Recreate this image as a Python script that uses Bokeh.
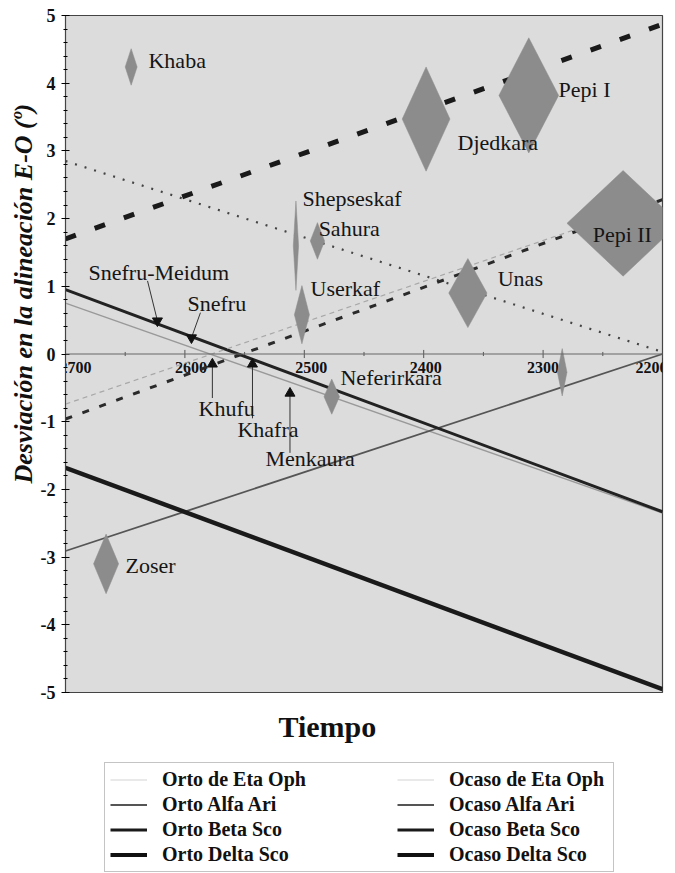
from bokeh.plotting import figure
from bokeh.models import (ColumnDataSource, Range1d, SingleIntervalTicker, PrintfTickFormatter,
                          Legend, LegendItem, Title, Span)
from bokeh.layouts import column
from bokeh.embed import file_html
from bokeh.resources import INLINE
from bokeh.core.properties import value

# ---------------- data ----------------
line_years = [2700, 2200]
orto_eta_oph = [0.75, -2.35]
orto_alfa_ari = [-2.91, 0.0]
orto_beta_sco = [0.95, -2.33]
orto_delta_sco = [-1.68, -4.95]
ocaso_eta_oph = [-0.74, 2.28]
ocaso_alfa_ari = [2.85, 0.03]
ocaso_beta_sco = [-0.96, 2.28]
ocaso_delta_sco = [1.70, 4.87]

pyr_names = ["Khaba", "Zoser", "Shepseskaf", "Sahura", "Userkaf", "Djedkara",
             "Pepi I", "Pepi II", "Unas", "Neferirkara", ""]
pyr_year = [2645, 2666, 2507, 2489, 2502, 2398, 2312, 2233, 2363, 2477, 2284]
pyr_dev = [4.24, -3.10, 1.60, 1.67, 0.58, 3.47, 3.82, 1.93, 0.90, -0.63, -0.27]
pyr_dev_err = [0.27, 0.44, 0.66, 0.27, 0.43, 0.77, 0.85, 0.78, 0.51, 0.26, 0.35]
pyr_year_err = [5, 10.5, 2.2, 6, 6.3, 20, 25, 47, 16, 6.5, 4]
pyr_label_x = [2630.5, 2649.7, 2501.5, 2488, 2494.8, 2371.7, 2287, 2258.5, 2338, 2469.7, 2284]
pyr_label_y = [4.33, -3.13, 2.30, 1.85, 0.97, 3.12, 3.91, 1.77, 1.12, -0.35, -0.27]

arr_names = ["Snefru-Meidum", "Snefru", "Khufu", "Khafra", "Menkaura"]
arr_year = [2623, 2594.5, 2577, 2543.4, 2512]
arr_dev = [0.49, 0.24, -0.15, -0.15, -0.58]
arr_tail_year = [2631.3, 2587, 2577, 2543.4, 2512]
arr_tail_dev = [1.08, 0.61, -0.65, -0.95, -1.46]
arr_marker = ["inverted_triangle", "inverted_triangle", "triangle", "triangle", "triangle"]
arr_label_x = [2680.7, 2597.8, 2588.6, 2556, 2532.5]
arr_label_y = [1.20, 0.75, -0.80, -1.11, -1.54]

x_ticks = [2700, 2600, 2500, 2400, 2300, 2200]
x_minor_ticks = [2650, 2550, 2450, 2350, 2250]
y_ticks = [-5, -4, -3, -2, -1, 0, 1, 2, 3, 4, 5]

legend_left = ["Orto de Eta Oph", "Orto Alfa Ari", "Orto Beta Sco", "Orto Delta Sco"]
legend_right = ["Ocaso de Eta Oph", "Ocaso Alfa Ari", "Ocaso Beta Sco", "Ocaso Delta Sco"]

SERIF = "Liberation Serif"
nan = float("nan")

p = figure(frame_width=597, frame_height=677, output_backend="svg", toolbar_location=None,
           x_range=Range1d(x_ticks[0], x_ticks[-1]), y_range=Range1d(y_ticks[0], y_ticks[-1]),
           x_axis_location=None,
           min_border_left=65, min_border_right=13, min_border_top=15, min_border_bottom=70)
p.background_fill_color = "#dcdcdc"
p.border_fill_color = "white"
p.outline_line_color = "#444444"
p.outline_line_width = 1.2
p.grid.visible = False

ya = p.yaxis[0]
ya.ticker = SingleIntervalTicker(interval=1, num_minor_ticks=5)
ya.formatter = PrintfTickFormatter(format="%d")
ya.axis_line_color = "#444444"
ya.major_tick_in = 4
ya.major_tick_out = 4
ya.minor_tick_in = 2
ya.minor_tick_out = 2
ya.major_label_text_font = SERIF
ya.major_label_text_font_style = "bold"
ya.major_label_text_font_size = "18px"
ya.major_label_text_color = "#111111"
ya.major_label_standoff = 6

p.add_layout(Title(text="Desviación en la alineación E-O (º)", align="left", offset=209,
                   standoff=0, text_font=SERIF, text_font_size="26px",
                   text_font_style="bold italic", text_color="#111111"), "left")
p.add_layout(Title(text="Tiempo", align="left", offset=213, standoff=32, vertical_align="middle",
                   text_font=SERIF, text_font_size="30px", text_font_style="bold",
                   text_color="#111111"), "below")

# time axis along y = 0
p.add_layout(Span(location=0, dimension="width", line_color="#666666", line_width=1))
p.segment(x_ticks, [-0.06] * len(x_ticks), x_ticks, [0.06] * len(x_ticks),
          line_color="#555555", line_width=1)
p.segment(x_minor_ticks, [-0.03] * len(x_minor_ticks), x_minor_ticks, [0.03] * len(x_minor_ticks),
          line_color="#555555", line_width=1)
tick_src = ColumnDataSource(dict(x=x_ticks, y=[0] * len(x_ticks), t=[str(v) for v in x_ticks],
                                 dx=[10, 6, 7, 2, 0, -11]))
p.text(x="x", y="y", text="t", source=tick_src, text_font=value(SERIF), text_font_style="bold",
       text_font_size="16px", text_align="center", text_baseline="top", y_offset=8,
       x_offset="dx", text_color="#111111")

# star lines
styles_orto = [("#999999", 1.3), ("#555555", 1.8), ("#222222", 3.0), ("#1a1a1a", 4.5)]
orto = [orto_eta_oph, orto_alfa_ari, orto_beta_sco, orto_delta_sco]
ocaso = [ocaso_eta_oph, ocaso_alfa_ari, ocaso_beta_sco, ocaso_delta_sco]
ocaso_style = [("#a8a8a8", 1.2, "5 4"), ("#444444", 2.2, "2 8"),
               ("#2a2a2a", 3.0, "7 11"), ("#1a1a1a", 5.0, "11 20")]
for vals, (c, w) in zip(orto, styles_orto):
    p.line(line_years, vals, line_color=c, line_width=w)
for vals, (c, w, d) in zip(ocaso, ocaso_style):
    p.line(line_years, vals, line_color=c, line_width=w, line_dash=d)

# pyramids as diamonds
xs = [[x - dx, x, x + dx, x] for x, dx in zip(pyr_year, pyr_year_err)]
ys = [[y, y + dy, y, y - dy] for y, dy in zip(pyr_dev, pyr_dev_err)]
p.patches(xs, ys, fill_color="#8c8c8c", line_color="#8c8c8c", line_width=0.5)

lab_src = ColumnDataSource(dict(x=pyr_label_x, y=pyr_label_y, t=pyr_names))
p.text(x="x", y="y", text="t", source=lab_src, text_font=value(SERIF),
       text_font_size="22px", text_baseline="middle", text_align="left", text_color="#151515")

# arrows
p.segment(arr_tail_year, arr_tail_dev, arr_year, arr_dev, line_color="#333333", line_width=1)
p.scatter(arr_year, arr_dev, marker=arr_marker, size=10, fill_color="#111111", line_color="#111111")
arr_src = ColumnDataSource(dict(x=arr_label_x, y=arr_label_y, t=arr_names))
p.text(x="x", y="y", text="t", source=arr_src, text_font=value(SERIF),
       text_font_size="22px", text_baseline="middle", text_align="left", text_color="#151515")

# ---------------- legend strip below the chart (same side borders as the chart) ----------------
leg = figure(width=675, height=111, output_backend="svg", toolbar_location=None,
             x_range=Range1d(0, 1), y_range=Range1d(0, 1),
             x_axis_location=None, y_axis_location=None,
             min_border_left=65, min_border_right=13, min_border_top=0, min_border_bottom=0)
leg.grid.visible = False
leg.background_fill_color = "white"
leg.border_fill_color = "white"
leg.outline_line_color = None

leg_styles = [("#d4d4d4", 1.2), ("#555555", 2.0), ("#1a1a1a", 3.0), ("#111111", 4.0)]
legend_cfg = [(legend_left, 39, 1, 446, "#8a8a8a", 1.0),
              (legend_right, 332, 7, None, None, 0.0)]
for names, xloc, yloc, lw, border, bg_alpha in legend_cfg:
    items = []
    for name, (c, w) in zip(names, leg_styles):
        r = leg.line(x=[nan, nan], y=[nan, nan], line_color=c, line_width=w)
        items.append(LegendItem(label=name, renderers=[r]))
    lg = Legend(items=items, location=(xloc, yloc),
                label_text_font=SERIF, label_text_font_style="bold", label_text_font_size="20px",
                label_text_color="#111111", glyph_width=37, glyph_height=21, label_height=21,
                label_standoff=15, spacing=2, padding=5, margin=0,
                border_line_color=border, border_line_width=1.5,
                background_fill_color="white", background_fill_alpha=bg_alpha)
    if lw is not None:
        lg.label_width = lw
    leg.add_layout(lg, "center")

open("out.html", "w").write(file_html(column(p, leg), INLINE))
